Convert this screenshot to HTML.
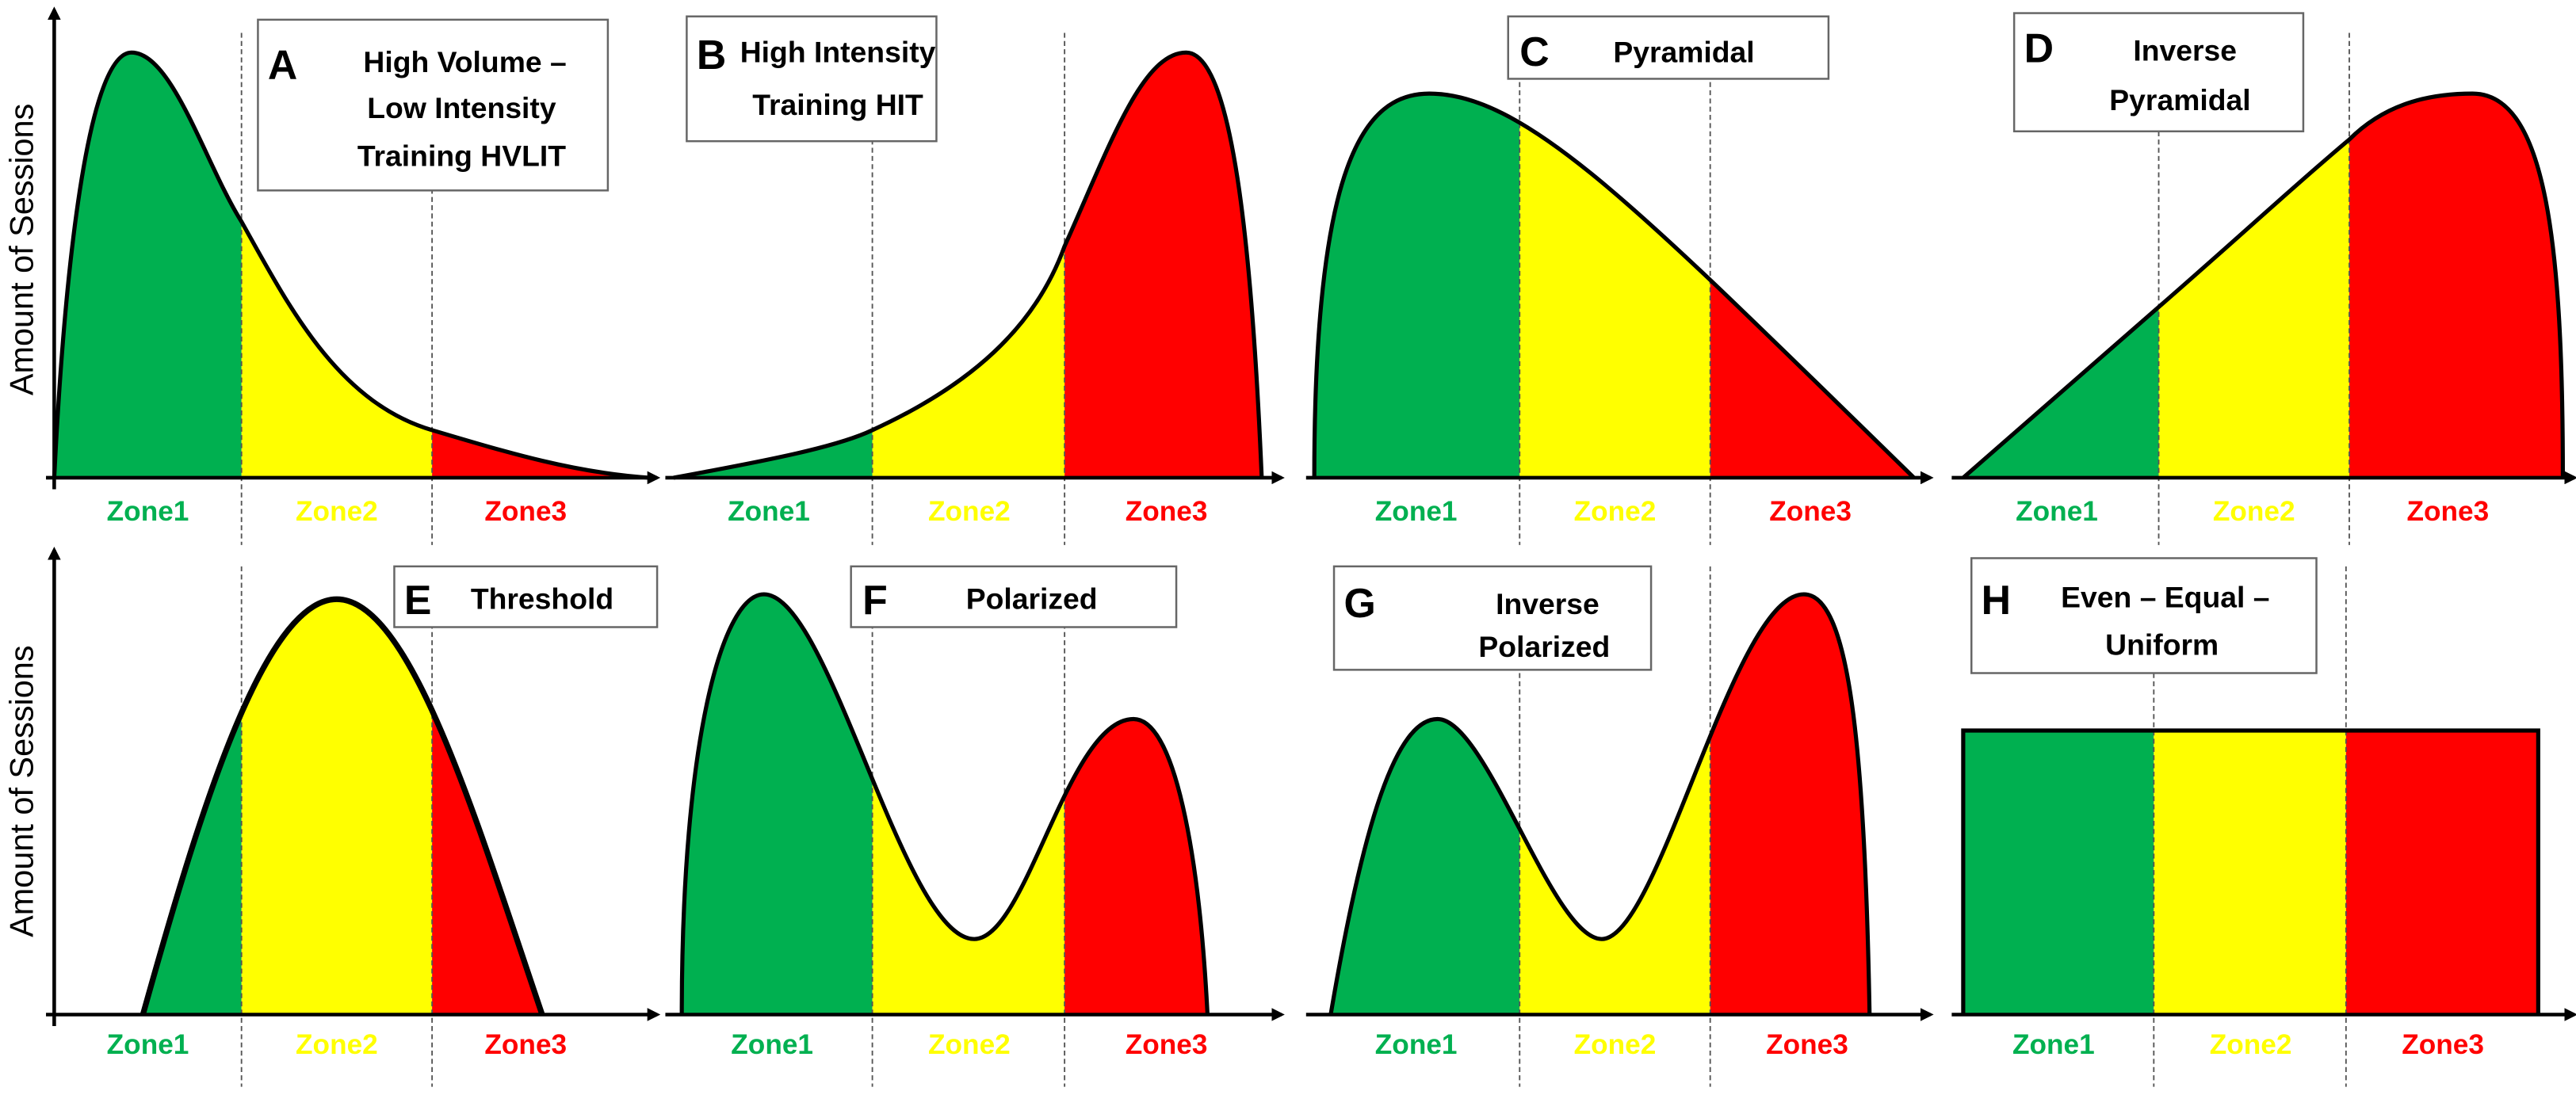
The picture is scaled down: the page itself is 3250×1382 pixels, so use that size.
<!DOCTYPE html>
<html><head><meta charset="utf-8"><style>
html,body{margin:0;padding:0;background:#fff;}
svg{display:block;}
text{font-family:"Liberation Sans",sans-serif;}
.t{font-weight:bold;font-size:18px;text-anchor:middle;fill:#000;}
.L{font-weight:bold;font-size:25px;fill:#000;}
.z{font-weight:bold;font-size:17px;text-anchor:middle;}
.box{fill:#fff;stroke:#666;stroke-width:1.2;}
.dv{stroke:#555;stroke-width:0.9;stroke-dasharray:3,2;}
.ax{stroke:#000;stroke-width:2.2;fill:none;}
.cv{fill:none;stroke:#000;stroke-width:2.5;}
</style></head><body>
<svg width="3250" height="1382" viewBox="0 0 1568 667" preserveAspectRatio="none">
<defs>
<marker id="ar" markerWidth="8" markerHeight="8" refX="6" refY="4" orient="auto" markerUnits="userSpaceOnUse"><path d="M0,0 L8,4 L0,8 Z" fill="#000"/></marker>
<clipPath id="cA"><path d="M33,291 C40,150 55,32 80,32 C105,32 125,100 147,135 C175,185 205,245 263,262 C310,276 350,288 395,291 Z"/></clipPath>
<clipPath id="cB"><path d="M410,291 C470,280 510,272 531,262 C590,235 630,200 648,150 C675,90 695,32 722,32 C750,32 762,150 768,291 Z"/></clipPath>
<clipPath id="cC"><path d="M800,291 C800,100 830,57 870,57 C930,57 1000,130 1165,291 Z"/></clipPath>
<clipPath id="cD"><path d="M1195,291 L1314,187 C1360,147 1400,110 1430,85 C1450,65 1475,57 1505,57 C1550,57 1560,150 1560,291 Z"/></clipPath>
<clipPath id="cE"><path d="M87,618 C120,500 160,365 205,365 C250,365 290,500 330,618 Z"/></clipPath>
<clipPath id="cF"><path d="M415,618 C415,450 440,362 465,362 C505,362 550,572 593,572 C625,572 650,438 690,438 C715,438 730,520 735,618 Z"/></clipPath>
<clipPath id="cG"><path d="M810,618 C830,500 850,438 875,438 C905,438 945,572 975,572 C1010,572 1055,362 1098,362 C1125,362 1135,450 1138,618 Z"/></clipPath>
</defs>

<g clip-path="url(#cA)"><rect x="20" y="0" width="127" height="300" fill="#00b050"/><rect x="147" y="0" width="116" height="300" fill="#ffff00"/><rect x="263" y="0" width="150" height="300" fill="#ff0000"/></g>
<g clip-path="url(#cB)"><rect x="400" y="0" width="131" height="300" fill="#00b050"/><rect x="531" y="0" width="117" height="300" fill="#ffff00"/><rect x="648" y="0" width="130" height="300" fill="#ff0000"/></g>
<g clip-path="url(#cC)"><rect x="790" y="0" width="135" height="300" fill="#00b050"/><rect x="925" y="0" width="116" height="300" fill="#ffff00"/><rect x="1041" y="0" width="140" height="300" fill="#ff0000"/></g>
<g clip-path="url(#cD)"><rect x="1185" y="0" width="129" height="300" fill="#00b050"/><rect x="1314" y="0" width="116" height="300" fill="#ffff00"/><rect x="1430" y="0" width="140" height="300" fill="#ff0000"/></g>
<g clip-path="url(#cE)"><rect x="20" y="330" width="127" height="300" fill="#00b050"/><rect x="147" y="330" width="116" height="300" fill="#ffff00"/><rect x="263" y="330" width="150" height="300" fill="#ff0000"/></g>
<g clip-path="url(#cF)"><rect x="400" y="330" width="131" height="300" fill="#00b050"/><rect x="531" y="330" width="117" height="300" fill="#ffff00"/><rect x="648" y="330" width="130" height="300" fill="#ff0000"/></g>
<g clip-path="url(#cG)"><rect x="790" y="330" width="135" height="300" fill="#00b050"/><rect x="925" y="330" width="116" height="300" fill="#ffff00"/><rect x="1041" y="330" width="140" height="300" fill="#ff0000"/></g>
<rect x="1195" y="445" width="116" height="173" fill="#00b050"/><rect x="1311" y="445" width="117" height="173" fill="#ffff00"/><rect x="1428" y="445" width="117" height="173" fill="#ff0000"/>

<g class="dv">
<line x1="147" y1="20" x2="147" y2="332"/><line x1="263" y1="20" x2="263" y2="332"/>
<line x1="531" y1="20" x2="531" y2="332"/><line x1="648" y1="20" x2="648" y2="332"/>
<line x1="925" y1="20" x2="925" y2="332"/><line x1="1041" y1="20" x2="1041" y2="332"/>
<line x1="1314" y1="20" x2="1314" y2="332"/><line x1="1430" y1="20" x2="1430" y2="332"/>
<line x1="147" y1="345" x2="147" y2="662"/><line x1="263" y1="345" x2="263" y2="662"/>
<line x1="531" y1="345" x2="531" y2="662"/><line x1="648" y1="345" x2="648" y2="662"/>
<line x1="925" y1="345" x2="925" y2="662"/><line x1="1041" y1="345" x2="1041" y2="662"/>
<line x1="1311" y1="345" x2="1311" y2="662"/><line x1="1428" y1="345" x2="1428" y2="662"/>
</g>

<path class="cv" d="M33,291 C40,150 55,32 80,32 C105,32 125,100 147,135 C175,185 205,245 263,262 C310,276 350,288 395,291"/>
<path class="cv" d="M410,291 C470,280 510,272 531,262 C590,235 630,200 648,150 C675,90 695,32 722,32 C750,32 762,150 768,291"/>
<path class="cv" d="M800,291 C800,100 830,57 870,57 C930,57 1000,130 1165,291"/>
<path class="cv" d="M1195,291 L1314,187 C1360,147 1400,110 1430,85 C1450,65 1475,57 1505,57 C1550,57 1560,150 1560,291"/>
<path class="cv" style="stroke-width:3.5" d="M87,618 C120,500 160,365 205,365 C250,365 290,500 330,618"/>
<path class="cv" d="M415,618 C415,450 440,362 465,362 C505,362 550,572 593,572 C625,572 650,438 690,438 C715,438 730,520 735,618"/>
<path class="cv" d="M810,618 C830,500 850,438 875,438 C905,438 945,572 975,572 C1010,572 1055,362 1098,362 C1125,362 1135,450 1138,618"/>
<path class="cv" d="M1195,618 L1195,445 L1545,445 L1545,618"/>

<line class="ax" x1="33" y1="298" x2="33" y2="6" marker-end="url(#ar)"/>
<line class="ax" x1="28" y1="291" x2="400" y2="291" marker-end="url(#ar)"/>
<line class="ax" x1="405" y1="291" x2="780" y2="291" marker-end="url(#ar)"/>
<line class="ax" x1="795" y1="291" x2="1175" y2="291" marker-end="url(#ar)"/>
<line class="ax" x1="1188" y1="291" x2="1567" y2="291" marker-end="url(#ar)"/>
<line class="ax" x1="33" y1="625" x2="33" y2="335" marker-end="url(#ar)"/>
<line class="ax" x1="28" y1="618" x2="400" y2="618" marker-end="url(#ar)"/>
<line class="ax" x1="405" y1="618" x2="780" y2="618" marker-end="url(#ar)"/>
<line class="ax" x1="795" y1="618" x2="1175" y2="618" marker-end="url(#ar)"/>
<line class="ax" x1="1188" y1="618" x2="1567" y2="618" marker-end="url(#ar)"/>

<text transform="translate(20,152) rotate(-90)" font-size="20" text-anchor="middle" fill="#000">Amount of Sessions</text>
<text transform="translate(20,482) rotate(-90)" font-size="20" text-anchor="middle" fill="#000">Amount of Sessions</text>

<g class="z">
<text x="90" y="317" fill="#00b050">Zone1</text><text x="205" y="317" fill="#ffff00">Zone2</text><text x="320" y="317" fill="#ff0000">Zone3</text>
<text x="468" y="317" fill="#00b050">Zone1</text><text x="590" y="317" fill="#ffff00">Zone2</text><text x="710" y="317" fill="#ff0000">Zone3</text>
<text x="862" y="317" fill="#00b050">Zone1</text><text x="983" y="317" fill="#ffff00">Zone2</text><text x="1102" y="317" fill="#ff0000">Zone3</text>
<text x="1252" y="317" fill="#00b050">Zone1</text><text x="1372" y="317" fill="#ffff00">Zone2</text><text x="1490" y="317" fill="#ff0000">Zone3</text>
<text x="90" y="642" fill="#00b050">Zone1</text><text x="205" y="642" fill="#ffff00">Zone2</text><text x="320" y="642" fill="#ff0000">Zone3</text>
<text x="470" y="642" fill="#00b050">Zone1</text><text x="590" y="642" fill="#ffff00">Zone2</text><text x="710" y="642" fill="#ff0000">Zone3</text>
<text x="862" y="642" fill="#00b050">Zone1</text><text x="983" y="642" fill="#ffff00">Zone2</text><text x="1100" y="642" fill="#ff0000">Zone3</text>
<text x="1250" y="642" fill="#00b050">Zone1</text><text x="1370" y="642" fill="#ffff00">Zone2</text><text x="1487" y="642" fill="#ff0000">Zone3</text>
</g>

<rect class="box" x="157" y="12" width="213" height="104"/>
<text class="L" x="163" y="48">A</text>
<text class="t" x="283" y="44">High Volume –</text><text class="t" x="281" y="72">Low Intensity</text><text class="t" x="281" y="101">Training HVLIT</text>

<rect class="box" x="418" y="10" width="152" height="76"/>
<text class="L" x="424" y="42">B</text>
<text class="t" x="510" y="38">High Intensity</text><text class="t" x="510" y="70">Training HIT</text>

<rect class="box" x="918" y="10" width="195" height="38"/>
<text class="L" x="925" y="40">C</text>
<text class="t" x="1025" y="38">Pyramidal</text>

<rect class="box" x="1226" y="8" width="176" height="72"/>
<text class="L" x="1232" y="38">D</text>
<text class="t" x="1330" y="37">Inverse</text><text class="t" x="1327" y="67">Pyramidal</text>

<rect class="box" x="240" y="345" width="160" height="37"/>
<text class="L" x="246" y="374">E</text>
<text class="t" x="330" y="371">Threshold</text>

<rect class="box" x="518" y="345" width="198" height="37"/>
<text class="L" x="525" y="374">F</text>
<text class="t" x="628" y="371">Polarized</text>

<rect class="box" x="812" y="345" width="193" height="63"/>
<text class="L" x="818" y="376">G</text>
<text class="t" x="942" y="374">Inverse</text><text class="t" x="940" y="400">Polarized</text>

<rect class="box" x="1200" y="340" width="210" height="70"/>
<text class="L" x="1206" y="374">H</text>
<text class="t" x="1318" y="370">Even – Equal –</text><text class="t" x="1316" y="399">Uniform</text>
</svg>
</body></html>
